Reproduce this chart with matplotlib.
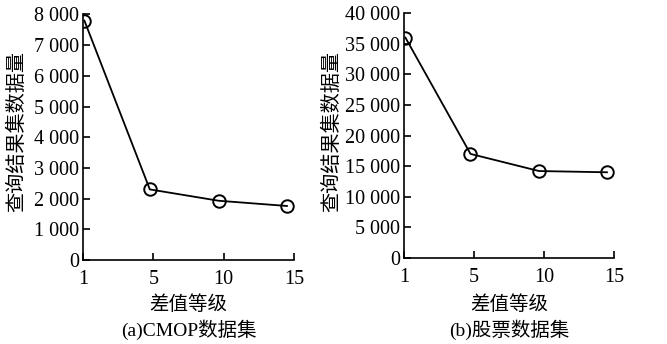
import matplotlib
matplotlib.use('Agg')
import matplotlib.pyplot as plt

plt.rcParams['font.family'] = ['Liberation Serif', 'Noto Sans CJK SC']

# level labels and where the points sit along the (evenly spaced) x axis
levels = ['1', '5', '10', '15']
level_pos = [0.02, 0.95, 1.93, 2.9]

cmop_counts = [7800, 2300, 1930, 1760]
stock_counts = [36000, 17000, 14200, 14000]

cmop_yticks = [0, 1000, 2000, 3000, 4000, 5000, 6000, 7000, 8000]
stock_yticks = [0, 5000, 10000, 15000, 20000, 25000, 30000, 35000, 40000]


def fmt(v):
    # thousands separated by a space, e.g. "8 000"
    return '{:,}'.format(v).replace(',', ' ')


fig = plt.figure(figsize=(6.67, 3.44), dpi=100)
ax1 = fig.add_axes([0.1244, 0.2442, 0.3164, 0.7138])
ax2 = fig.add_axes([0.6057, 0.25, 0.3148, 0.712])

panels = [
    (ax1, cmop_counts, cmop_yticks, '(a)CMOP数据集', 0.027),
    (ax2, stock_counts, stock_yticks, '(b)股票数据集', 0.499),
]

for ax, counts, yticks, caption, ylab_x in panels:
    ax.plot(level_pos, counts, color='black', lw=1.3, marker='o', ms=9,
            mfc='none', mec='black', mew=1.4)
    ax.set_xlim(0, 3)
    ax.set_ylim(0, yticks[-1])
    ax.set_xticks(range(len(levels)))
    ax.set_xticklabels(levels)
    ax.set_yticks(yticks)
    ax.set_yticklabels([fmt(v) for v in yticks])
    ax.spines['top'].set_visible(False)
    ax.spines['right'].set_visible(False)
    for s in ('left', 'bottom'):
        ax.spines[s].set_linewidth(1.2)
    ax.tick_params(direction='in', length=5, width=1.2, labelsize=14.5)
    ax.tick_params(axis='x', pad=7)
    ax.tick_params(axis='y', pad=3)

    pos = ax.get_position()
    xc = (pos.x0 + pos.x1) / 2
    fig.text(ylab_x, 0.619, '查询结果集数据量', rotation=90, ha='center',
             va='center', fontsize=14.5)
    fig.text(xc, 0.114, '差值等级', ha='center', va='center', fontsize=14)
    fig.text(xc, 0.040, caption, ha='center', va='center', fontsize=14)

fig.savefig('out.png', dpi=100)
